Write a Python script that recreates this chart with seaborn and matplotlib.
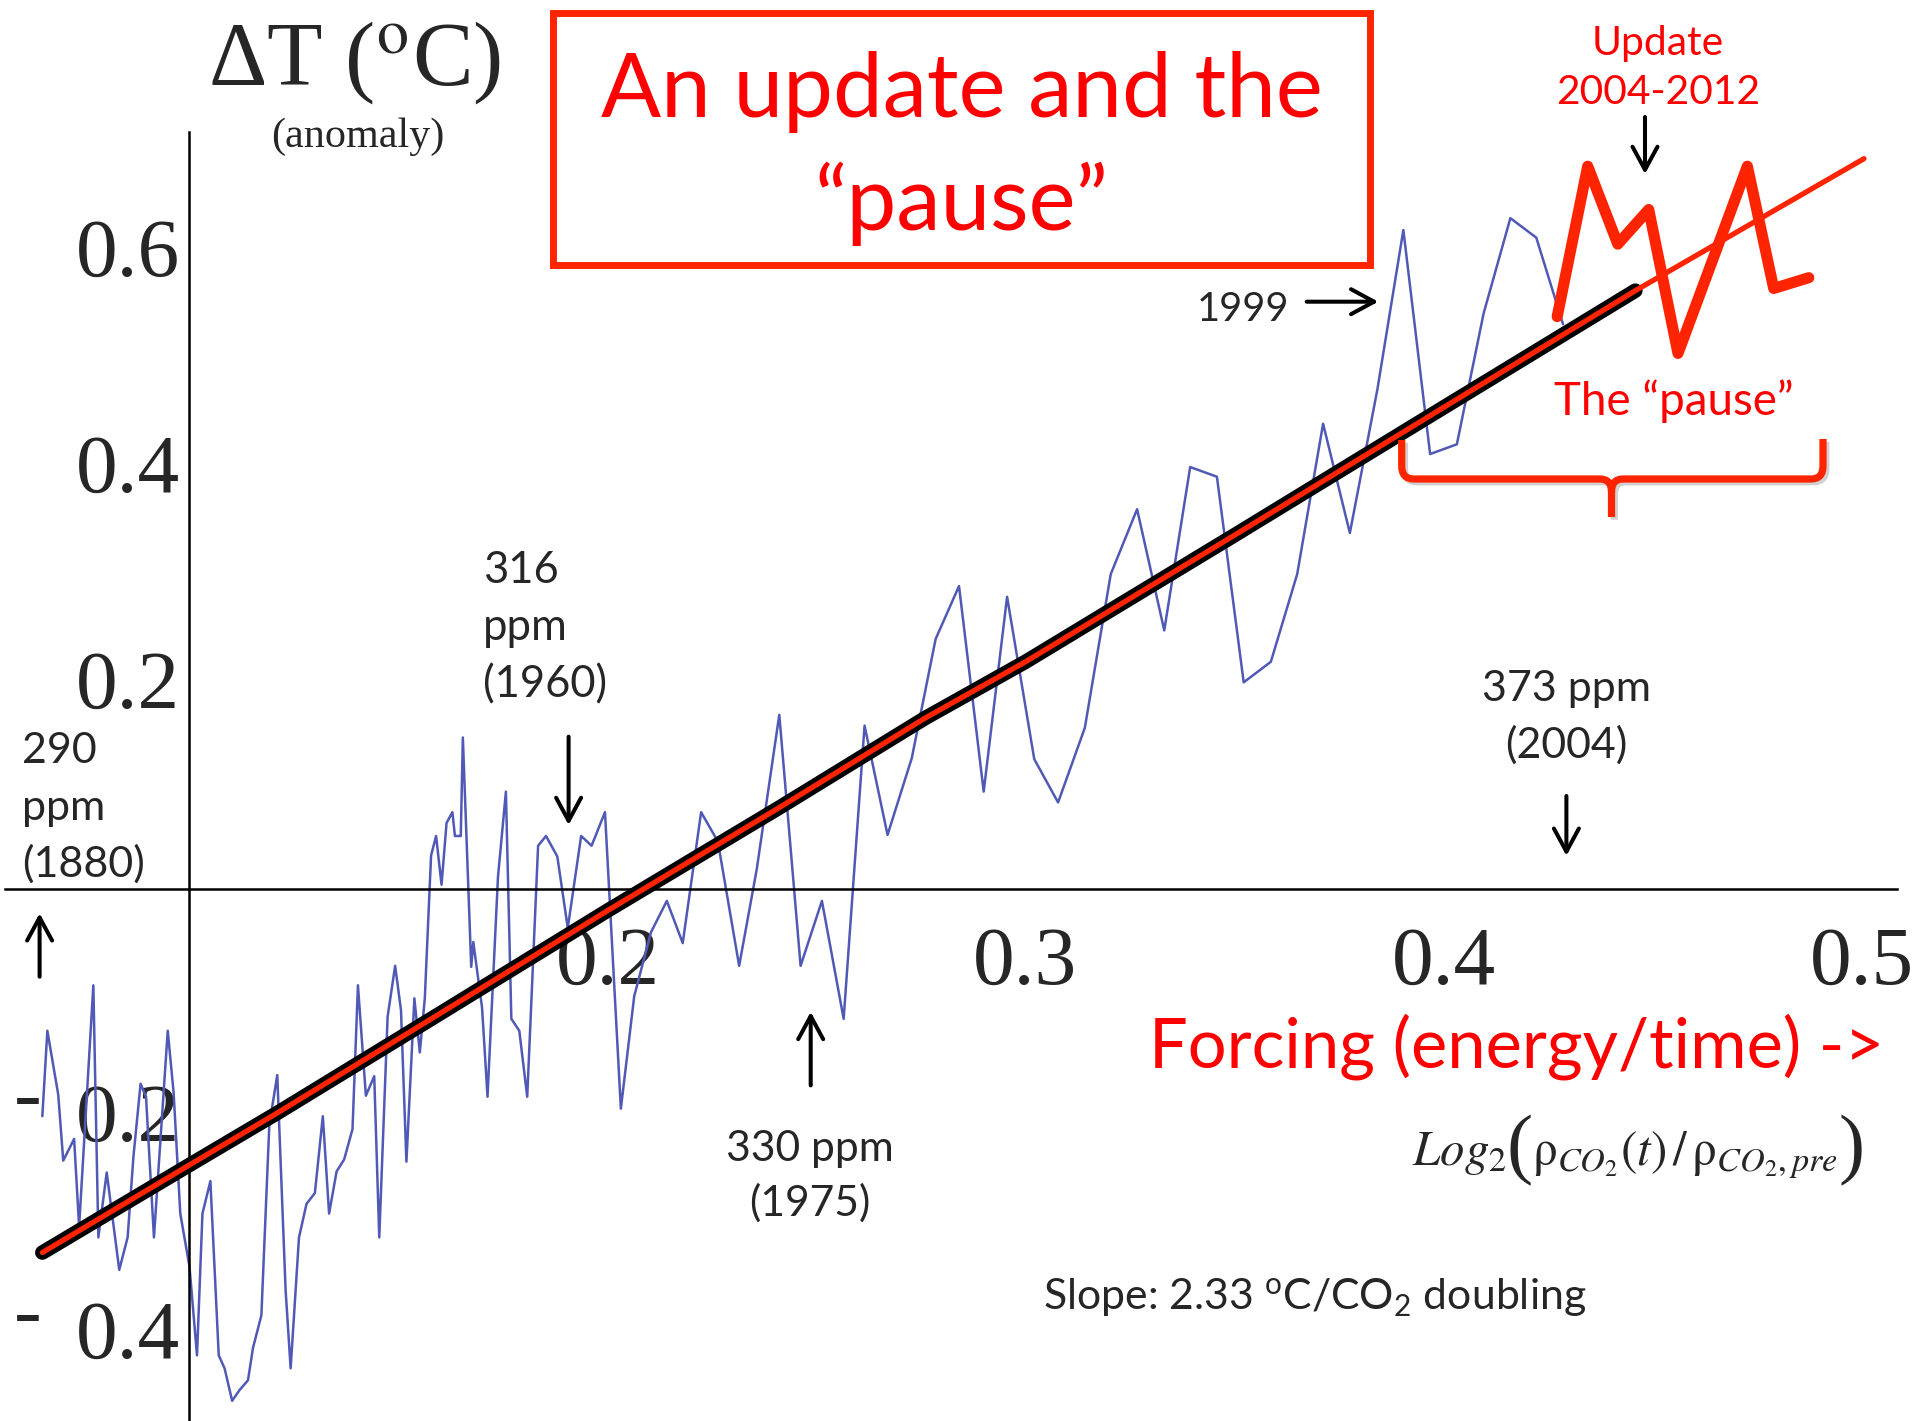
import numpy as np
import matplotlib
matplotlib.use("Agg")
import matplotlib.pyplot as plt
import seaborn as sns
from matplotlib.patches import Rectangle, PathPatch
from matplotlib.path import Path
from matplotlib.transforms import Affine2D, ScaledTranslation
import matplotlib.patheffects as pe

# Observed annual temperature anomaly against CO2 forcing, log2(CO2 / pre-industrial)
obs_forcing = [
    0.0648, 0.0660, 0.0686, 0.0698, 0.0724, 0.0736, 0.0770, 0.0782, 0.0802, 0.0832,
    0.0852, 0.0866, 0.0883, 0.0896, 0.0915, 0.0948, 0.0962, 0.0978, 0.1000, 0.1018,
    0.1031, 0.1050, 0.1070, 0.1084, 0.1102, 0.1120, 0.1140, 0.1152, 0.1172, 0.1191,
    0.1210, 0.1230, 0.1242, 0.1262, 0.1280, 0.1300, 0.1319, 0.1334, 0.1352, 0.1370,
    0.1390, 0.1403, 0.1422, 0.1442, 0.1454, 0.1474, 0.1492, 0.1506, 0.1519, 0.1538,
    0.1551, 0.1563, 0.1578, 0.1590, 0.1603, 0.1615, 0.1629, 0.1635, 0.1649, 0.1654,
    0.1674, 0.1679, 0.1700, 0.1713, 0.1738, 0.1757, 0.1770, 0.1789, 0.1808, 0.1834,
    0.1853, 0.1880, 0.1905, 0.1937, 0.1962, 0.1994, 0.2032, 0.2064, 0.2104, 0.2142,
    0.2180, 0.2224, 0.2264, 0.2315, 0.2357, 0.2411, 0.2462, 0.2513, 0.2565, 0.2615,
    0.2670, 0.2728, 0.2785, 0.2841, 0.2900, 0.2956, 0.3021, 0.3078, 0.3142, 0.3204,
    0.3267, 0.3332, 0.3394, 0.3458, 0.3522, 0.3587, 0.3650, 0.3712, 0.3776, 0.3842,
    0.3904, 0.3968, 0.4032, 0.4096, 0.4160, 0.4222, 0.4286,
]
obs_anomaly = [
    -0.210, -0.131, -0.190, -0.251, -0.231, -0.312, -0.089, -0.322, -0.262, -0.352,
    -0.322, -0.247, -0.180, -0.192, -0.322, -0.131, -0.188, -0.300, -0.349, -0.431,
    -0.300, -0.270, -0.431, -0.443, -0.473, -0.463, -0.454, -0.424, -0.394, -0.218,
    -0.172, -0.371, -0.443, -0.322, -0.291, -0.281, -0.210, -0.300, -0.261, -0.250,
    -0.222, -0.089, -0.191, -0.173, -0.322, -0.118, -0.071, -0.112, -0.252, -0.101,
    -0.151, -0.101, 0.031, 0.049, 0.004, 0.061, 0.071, 0.049, 0.049, 0.140,
    -0.072, -0.049, -0.110, -0.192, 0.011, 0.090, -0.120, -0.131, -0.192, 0.040,
    0.049, 0.030, -0.036, 0.049, 0.040, 0.071, -0.203, -0.099, -0.040, -0.011,
    -0.050, 0.071, 0.044, -0.071, 0.018, 0.161, -0.071, -0.011, -0.120, 0.151,
    0.050, 0.121, 0.231, 0.280, 0.090, 0.270, 0.120, 0.080, 0.149, 0.291,
    0.351, 0.239, 0.390, 0.381, 0.191, 0.210, 0.291, 0.430, 0.329, 0.462,
    0.609, 0.402, 0.411, 0.532, 0.620, 0.602, 0.522,
]

# Fitted response (2.33 C per CO2 doubling)
fit_forcing = [0.0648, 0.100, 0.121, 0.157, 0.200, 0.241, 0.276, 0.300, 0.350, 0.400, 0.4459]
fit_anomaly = [-0.336, -0.255, -0.207, -0.122, -0.020, 0.075, 0.158, 0.210, 0.327, 0.445, 0.553]

# Same trend carried on past the fitted range
trend_forcing = fit_forcing + [0.5006]
trend_anomaly = fit_anomaly + [0.675]

# Update 2004-2012
update_forcing = [0.4272, 0.4345, 0.4417, 0.4491, 0.4561, 0.4727, 0.4790, 0.4874]
update_anomaly = [0.529, 0.668, 0.596, 0.628, 0.495, 0.668, 0.555, 0.565]

x_major = [0.1, 0.2, 0.3, 0.4, 0.5]
x_major_labels = ["", "0.2", "0.3", "0.4", "0.5"]
y_major = [-0.4, -0.2, 0.2, 0.4, 0.6]
y_major_labels = ["0.4", "0.2", "0.2", "0.4", "0.6"]
y_negative = [-0.4, -0.2]

RED = "#FF2400"
TXT_RED = "#FF0000"
BLUE = "#5059B5"
SANS = "Lato"
SERIF = "Liberation Serif"

sns.set_theme(style="white")
plt.rcParams["font.family"] = [SANS, "DejaVu Sans"]
plt.rcParams["mathtext.fontset"] = "custom"
plt.rcParams["mathtext.rm"] = SANS
plt.rcParams["mathtext.it"] = SANS + ":italic"
plt.rcParams["mathtext.bf"] = SANS + ":bold"

W, H = 1917, 1421
fig = plt.figure(figsize=(W / 100, H / 100), dpi=100)
ax = fig.add_axes([0, 0, 1, 1])
ax.set_xlim(0.05467, 0.51328)
ax.set_ylim(-0.49168, 0.82163)
ax.patch.set_visible(False)

# axes crossing at (0.1, 0)
for side in ("top", "right"):
    ax.spines[side].set_visible(False)
ax.spines["left"].set_position(("data", 0.1))
ax.spines["bottom"].set_position(("data", 0.0))
ax.spines["left"].set_bounds(-0.4917, 0.7)
ax.spines["bottom"].set_bounds(0.0558, 0.5085)
for side in ("left", "bottom"):
    ax.spines[side].set_linewidth(1.8)
    ax.spines[side].set_color("black")

ax.set_xticks(x_major, x_major_labels)
ax.set_xticks(np.round(np.arange(0.06, 0.49, 0.02), 2), minor=True)
ax.set_yticks(y_major, y_major_labels)
ax.set_yticks(np.round(np.arange(-0.45, 0.71, 0.05), 2), minor=True)
ax.tick_params(which="both", direction="in", width=1.4, color="black")
ax.tick_params(which="major", length=8.2)
ax.tick_params(which="minor", length=4.5)
ax.tick_params(axis="x", pad=27, labelsize=60)
ax.tick_params(axis="y", pad=7, labelsize=60)
for lbl in ax.get_xticklabels() + ax.get_yticklabels():
    lbl.set_fontfamily(SERIF)
# value labels sit a little below their ticks
drop = ScaledTranslation(0, -5 / 72, fig.dpi_scale_trans)
for tick in ax.yaxis.get_major_ticks():
    tick.label1.set_transform(tick.label1.get_transform() + drop)

# data lines
sns.lineplot(x=obs_forcing, y=obs_anomaly, ax=ax, sort=False, estimator=None,
             color=BLUE, linewidth=1.8, zorder=2)
sns.lineplot(x=fit_forcing, y=fit_anomaly, ax=ax, sort=False, estimator=None,
             color="black", linewidth=10.5, zorder=3)
sns.lineplot(x=trend_forcing, y=trend_anomaly, ax=ax, sort=False, estimator=None,
             color=RED, linewidth=3.8, zorder=4)
sns.lineplot(x=update_forcing, y=update_anomaly, ax=ax, sort=False, estimator=None,
             color=RED, linewidth=8.0, zorder=5)
ax.lines[-1].set_solid_joinstyle("round")

# ---- annotations, placed in figure pixels (origin top-left) ----
renderer = fig.canvas.get_renderer()
pix = Affine2D().scale(1 / W, -1 / H).translate(0, 1) + fig.transFigure


def P(x, y):
    return x / W, 1 - y / H


def width_at(s, size, **kw):
    t = fig.text(0, 0, s, fontsize=size, **kw)
    w = t.get_window_extent(renderer).width
    t.remove()
    return w


def size_for(s, width, **kw):
    return 40 * width / width_at(s, 40, **kw)


def put(x, y, s, size, ha="left", **kw):
    return fig.text(*P(x, y), s, fontsize=size, ha=ha, va="baseline", **kw)


def arrow(x0, y0, x1, y1):
    ax.annotate("", xy=P(x1, y1), xytext=P(x0, y0),
                xycoords="figure fraction", textcoords="figure fraction",
                arrowprops=dict(arrowstyle="->,head_length=0.83,head_width=0.45",
                                lw=2.9, color="black", mutation_scale=20,
                                shrinkA=0, shrinkB=0))


# y-axis title
s = size_for("ΔT ($^{\\mathrm{o}}$C)", 294, family=SERIF, math_fontfamily="stix")
put(208, 85, "ΔT ($^{\\mathrm{o}}$C)", s, family=SERIF, math_fontfamily="stix")
s = size_for("(anomaly)", 173, family=SERIF)
put(271, 147, "(anomaly)", s, family=SERIF)

# raised minus signs for the negative tick labels
for yv in y_negative:
    ypx = 889 - yv * 1082
    put(28, ypx - 4 + 18.8, "-", 60, ha="center", family=SERIF)

# title box
fig.add_artist(Rectangle((553, 13), 817, 252, transform=pix, fill=False,
                         lw=5, ec=RED))
s = size_for("An update and the", 721)
put(962, 117, "An update and the", s, ha="center", color=TXT_RED)
put(962, 230, "\u201cpause\u201d", s, ha="center", color=TXT_RED)

# update label
s = size_for("2004-2012", 204)
put(1658, 55, "Update", s, ha="center", color=TXT_RED)
put(1658, 104, "2004-2012", s, ha="center", color=TXT_RED)
arrow(1645, 117, 1645, 174)

s = size_for("The \u201cpause\u201d", 239)
put(1674, 415, "The \u201cpause\u201d", s, ha="center", color=TXT_RED)

# curly brace under the pause
verts = [(1401.7, 440), (1401.7, 466), (1401.7, 479), (1414, 479), (1600, 479),
         (1611.5, 479), (1611.5, 492), (1611.5, 517),
         (1611.5, 492), (1611.5, 479), (1623, 479), (1811, 479), (1823, 479),
         (1823, 466), (1823, 439)]
codes = [Path.MOVETO, Path.LINETO, Path.CURVE3, Path.CURVE3, Path.LINETO,
         Path.CURVE3, Path.CURVE3, Path.LINETO,
         Path.MOVETO, Path.CURVE3, Path.CURVE3, Path.LINETO, Path.CURVE3,
         Path.CURVE3, Path.LINETO]
brace = PathPatch(Path(verts, codes), transform=pix, fill=False, lw=5.2, ec=RED,
                  capstyle="butt",
                  path_effects=[pe.SimpleLineShadow(offset=(2, -2), alpha=0.2),
                                pe.Normal()])
fig.add_artist(brace)

# 1999 marker
s = size_for("1999", 92)
put(1196.7, 320.7, "1999", s)
arrow(1306.7, 301.7, 1378.3, 301.7)

# CO2 concentration markers
s = size_for("(1960)", 124)
put(483, 583, "316", s)
put(483, 640, "ppm", s)
put(483, 697, "(1960)", s)
arrow(568.6, 736.7, 568.6, 825)

s = size_for("(1880)", 122.6)
put(22.4, 763, "290", s)
put(22.4, 820, "ppm", s)
put(22.4, 877, "(1880)", s)
arrow(39.6, 976.7, 39.6, 913.3)

s = size_for("330 ppm", 168)
put(810, 1161, "330 ppm", s, ha="center")
put(810, 1216, "(1975)", s, ha="center")
arrow(810.7, 1085.4, 810.7, 1011.9)

s = size_for("373 ppm", 169)
put(1566.6, 701, "373 ppm", s, ha="center")
put(1566.6, 758, "(2004)", s, ha="center")
arrow(1566.4, 796, 1566.4, 855.8)

# x-axis description
s = size_for("Forcing (energy/time) ->", 734)
put(1149, 1067, "Forcing (energy/time) ->", s, color=TXT_RED)

# Log2(rho_CO2(t) / rho_CO2,pre) with tall outer parentheses
formula_parts = [
    (r"$Log_{\mathrm{2}}$", 1.0, 0.0, dict(math_fontfamily="stix")),
    ("(", 1.6, 0.19, dict(family=SERIF)),
    (r"$\mathrm{\rho}_{CO_{\mathrm{2}}}\mathrm{(}t\mathrm{)}\,/\,\mathrm{\rho}_{CO_{\mathrm{2}},pre}$",
     1.0, 0.0, dict(math_fontfamily="stix")),
    (")", 1.6, 0.19, dict(family=SERIF)),
]
base = 40
widths = [width_at(txt, base * rel, **kw) for txt, rel, _, kw in formula_parts]
scale = 452 / sum(widths)
xpos = 1412
for (txt, rel, dy, kw), w in zip(formula_parts, widths):
    fsize = base * rel * scale
    put(xpos, 1165 + dy * fsize * 100 / 72 * 0.3, txt, fsize, **kw)
    xpos += w * scale

slope = "Slope: 2.33 $^{\\mathrm{o}}$C/CO$_2$ doubling"
s = size_for(slope, 542)
put(1043, 1310, slope, s)

fig.savefig("out.png", dpi=100)
